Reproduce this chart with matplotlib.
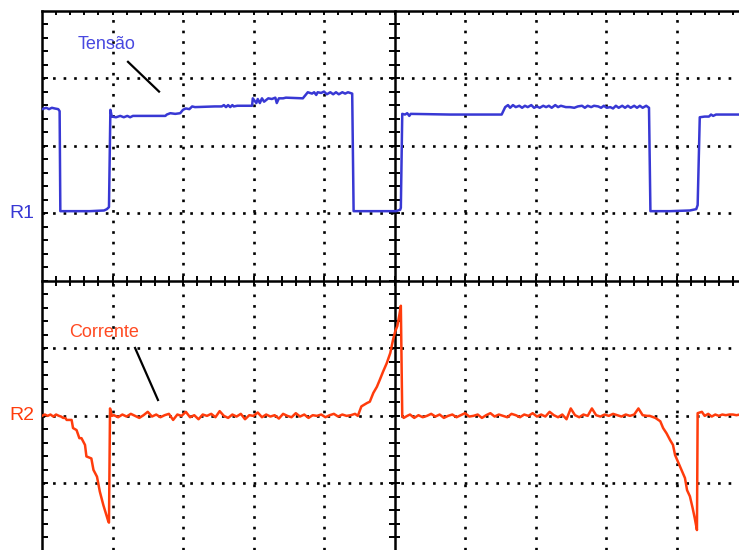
import matplotlib
matplotlib.use("Agg")
import matplotlib.pyplot as plt
from matplotlib.collections import LineCollection

plt.rcParams['font.family'] = ['Liberation Sans', 'DejaVu Sans']

# ---- data (time in divisions, level in divisions relative to channel reference) ----
tensao_t = [0.00, 0.06, 0.10, 0.14, 0.18, 0.23, 0.25, 0.26, 0.40, 0.68, 0.88, 0.92, 0.95,
            0.97, 0.99, 1.05, 1.11, 1.16, 1.21, 1.25, 1.29, 1.75, 1.77, 1.82, 1.89, 1.96,
            2.00, 2.04, 2.09, 2.13, 2.17, 2.45, 2.55, 2.58, 2.61, 2.64, 2.67, 2.70, 2.72,
            2.77, 2.98, 2.99, 3.04, 3.06, 3.09, 3.12, 3.15, 3.21, 3.26, 3.31, 3.33, 3.36,
            3.42, 3.46, 3.70, 3.77, 3.83, 3.86, 3.89, 3.91, 3.96, 4.00, 4.04, 4.09, 4.13,
            4.17, 4.21, 4.26, 4.30, 4.34, 4.40, 4.42, 4.65, 5.02, 5.08, 5.09, 5.11, 5.15,
            5.18, 5.21, 5.23, 5.79, 6.52, 6.57, 6.61, 6.64, 6.68, 6.72, 6.77, 6.81, 6.85,
            6.89, 6.94, 6.98, 7.02, 7.06, 7.11, 7.15, 7.19, 7.23, 7.28, 7.32, 7.36, 7.43,
            7.49, 7.55, 7.60, 7.66, 7.70, 7.74, 7.79, 7.83, 7.89, 7.93, 7.97, 8.01, 8.06,
            8.10, 8.14, 8.18, 8.23, 8.27, 8.31, 8.35, 8.40, 8.44, 8.48, 8.52, 8.57, 8.61,
            8.63, 8.91, 9.19, 9.28, 9.30, 9.33, 9.40, 9.46, 9.49, 9.52, 9.56, 9.89]
tensao_v = [1.54, 1.56, 1.54, 1.56, 1.55, 1.54, 1.51, 0.03, 0.03, 0.03, 0.04, 0.06, 0.09,
            1.53, 1.43, 1.42, 1.44, 1.42, 1.44, 1.42, 1.44, 1.44, 1.46, 1.48, 1.47, 1.48,
            1.53, 1.55, 1.54, 1.58, 1.57, 1.58, 1.58, 1.60, 1.57, 1.60, 1.57, 1.60, 1.58,
            1.59, 1.59, 1.70, 1.63, 1.69, 1.63, 1.70, 1.65, 1.70, 1.69, 1.71, 1.63, 1.70,
            1.70, 1.71, 1.70, 1.79, 1.77, 1.79, 1.75, 1.79, 1.78, 1.80, 1.76, 1.79, 1.76,
            1.79, 1.76, 1.79, 1.77, 1.79, 1.77, 0.03, 0.03, 0.03, 0.05, 0.08, 1.47, 1.46,
            1.48, 1.44, 1.47, 1.46, 1.46, 1.57, 1.60, 1.56, 1.60, 1.57, 1.59, 1.56, 1.59,
            1.57, 1.60, 1.56, 1.58, 1.56, 1.59, 1.57, 1.59, 1.56, 1.60, 1.57, 1.59, 1.57,
            1.57, 1.56, 1.58, 1.59, 1.56, 1.59, 1.57, 1.59, 1.58, 1.56, 1.59, 1.56, 1.57,
            1.55, 1.59, 1.56, 1.59, 1.56, 1.59, 1.56, 1.59, 1.56, 1.59, 1.56, 1.59, 1.56,
            0.03, 0.03, 0.04, 0.06, 0.12, 1.42, 1.43, 1.43, 1.46, 1.44, 1.46, 1.46]

corrente_t = [0.00, 0.04, 0.08, 0.12, 0.16, 0.20, 0.24, 0.27, 0.30, 0.33, 0.35, 0.42, 0.44,
              0.49, 0.53, 0.56, 0.61, 0.63, 0.70, 0.73, 0.78, 0.82, 0.87, 0.92, 0.94, 0.95,
              0.965, 0.99,
              1.02, 1.08, 1.14, 1.20, 1.26, 1.32, 1.38, 1.44, 1.50, 1.56, 1.62, 1.68, 1.74,
              1.80, 1.86, 1.92, 1.98, 2.04, 2.10, 2.16, 2.22, 2.28, 2.34, 2.40, 2.46, 2.52,
              2.58, 2.64, 2.70, 2.76, 2.82, 2.88, 2.94, 3.00, 3.06, 3.12, 3.18, 3.24, 3.30,
              3.36, 3.42, 3.48, 3.54, 3.60, 3.66, 3.72, 3.78, 3.84, 3.90, 3.96, 4.02, 4.08,
              4.14, 4.20, 4.26, 4.32, 4.38, 4.44,
              4.48, 4.53, 4.61, 4.65, 4.70, 4.75, 4.79, 4.84, 4.89, 4.94, 4.98, 5.01, 5.04,
              5.07, 5.09, 5.11, 5.13, 5.18,
              5.22, 5.28, 5.34, 5.40, 5.46, 5.52, 5.58, 5.64, 5.70, 5.76, 5.82, 5.88, 5.94,
              6.00, 6.06, 6.12, 6.18, 6.24, 6.30, 6.36, 6.42, 6.48, 6.54, 6.60, 6.66, 6.72,
              6.78, 6.84, 6.90, 6.96, 7.02, 7.08, 7.14, 7.20, 7.26, 7.32, 7.38, 7.44, 7.50,
              7.56, 7.62, 7.68, 7.74, 7.80, 7.86, 7.92, 7.98, 8.04, 8.10, 8.16, 8.22, 8.28,
              8.34, 8.40, 8.46, 8.52, 8.58,
              8.62, 8.70, 8.77, 8.81, 8.86, 8.91, 8.95, 8.98, 9.03, 9.07, 9.12, 9.15, 9.19,
              9.23, 9.26, 9.29, 9.30, 9.36, 9.40, 9.45, 9.50, 9.55, 9.60, 9.65, 9.70, 9.75,
              9.80, 9.85, 9.90]
corrente_v = [0.00, 0.02, 0.00, 0.02, -0.01, 0.02, 0.00, -0.01, -0.03, -0.03, -0.06, -0.06, -0.18,
              -0.21, -0.33, -0.33, -0.43, -0.60, -0.63, -0.80, -0.90, -1.12, -1.32, -1.49, -1.56, -1.58,
              0.11, 0.00,
              0.01, -0.02, 0.02, -0.01, 0.03, 0.00, -0.03, 0.01, 0.06, -0.01, 0.02, -0.02, 0.01,
              0.03, -0.06, 0.02, 0.00, 0.06, -0.02, 0.01, -0.05, 0.02, 0.00, 0.03, -0.02, 0.07,
              0.00, -0.03, 0.02, -0.01, 0.03, -0.05, 0.01, 0.00, 0.05, -0.02, 0.02, -0.01, 0.01,
              -0.04, 0.03, 0.00, -0.02, 0.04, -0.01, 0.02, -0.03, 0.01, 0.00, 0.02, -0.02, 0.01,
              0.03, -0.01, 0.02, 0.00, 0.01, 0.03,
              0.00, 0.14, 0.19, 0.21, 0.34, 0.43, 0.53, 0.66, 0.78, 0.93, 1.13, 1.25, 1.33,
              1.50, 1.63, 0.00, -0.03, 0.00,
              0.02, -0.03, 0.01, -0.02, 0.00, 0.03, -0.01, 0.02, -0.03, 0.00, 0.02, -0.02, 0.01,
              0.04, -0.01, 0.00, 0.02, -0.03, 0.01, 0.04, -0.01, 0.02, 0.00, -0.02, 0.03, 0.01,
              -0.02, 0.02, 0.00, 0.04, -0.01, 0.02, -0.01, 0.06, 0.01, -0.02, 0.02, -0.05, 0.11,
              0.01, -0.02, 0.02, 0.00, 0.11, 0.01, -0.01, 0.02, 0.00, 0.03, 0.01, -0.01, 0.02,
              0.00, 0.02, 0.11, 0.01, 0.00,
              0.00, -0.03, -0.08, -0.18, -0.26, -0.36, -0.43, -0.58, -0.70, -0.80, -0.92, -1.10, -1.19,
              -1.37, -1.52, -1.69, 0.04, 0.06, 0.00, 0.03, -0.01, 0.02, 0.00, 0.02, 0.01, 0.02,
              0.02, 0.01, 0.02]

R1_level = 5.0
R2_level = 2.0
labels_channels = ["R1", "R2"]
label_tensao = "Tensão"
label_corrente = "Corrente"

BLUE = "#3838d4"
BLUE_TXT = "#4848e0"
RED = "#ff3c0c"
RED_TXT = "#ff4a22"

# ---- figure ----
W, H = 739, 550
fig = plt.figure(figsize=(W / 100, H / 100), dpi=100)
ax = fig.add_axes([42 / W, 0, (W - 42) / W, (H - 10.5) / H])
ax.set_xlim(0, (W - 42) / 70.5)
ax.set_ylim(1.0 / 67.55, 8.0)
ax.set_axis_off()

# dotted grid
grid_kw = dict(color="black", lw=1.9, linestyle=(0, (1, 3)), dash_capstyle="butt", zorder=1)
for xg in [1, 2, 3, 4, 6, 7, 8, 9]:
    ax.axvline(xg, **grid_kw)
for yg in [1, 2, 3, 5, 6, 7]:
    ax.axhline(yg, **grid_kw)

# solid borders and centre lines
line_kw = dict(color="black", lw=1.8, zorder=2, clip_on=False)
ax.axvline(0, **line_kw)
ax.axhline(8, **line_kw)
ax.axvline(5, **line_kw)
ax.axhline(4, **line_kw)

# tick marks every 0.2 division
segs = []
xmax = (W - 42) / 70.5
k = 1
while k * 0.2 < xmax:
    x = k * 0.2
    segs.append([(x, 8), (x, 8 - 0.07)])
    segs.append([(x, 4 - 0.075), (x, 4 + 0.075)])
    k += 1
for k in range(1, 40):
    y = k * 0.2
    segs.append([(0, y), (0.085, y)])
    segs.append([(5 - 0.085, y), (5 + 0.085, y)])
ax.add_collection(LineCollection(segs, colors="black", linewidths=1.4, zorder=2, clip_on=False))

# traces
ax.plot(tensao_t, [R1_level + v for v in tensao_v], color=BLUE, lw=1.8, zorder=3,
        solid_joinstyle="round")
ax.plot(corrente_t, [R2_level + v for v in corrente_v], color=RED, lw=1.8, zorder=3,
        solid_joinstyle="round")

# labels
ax.text(-0.28, R1_level, labels_channels[0], color=BLUE, fontsize=14, ha="center",
        va="center", clip_on=False)
ax.text(-0.28, R2_level, labels_channels[1], color=RED, fontsize=14, ha="center",
        va="center", clip_on=False)
ax.text(0.92, 7.49, label_tensao, color=BLUE_TXT, fontsize=13, ha="center", va="center")
ax.text(0.88, 3.24, label_corrente, color=RED_TXT, fontsize=13, ha="center", va="center")
ax.plot([1.22, 1.66], [7.24, 6.80], color="black", lw=1.6, zorder=3)
ax.plot([1.32, 1.645], [3.005, 2.235], color="black", lw=1.6, zorder=3)

fig.savefig("out.png", dpi=100, facecolor="white")
